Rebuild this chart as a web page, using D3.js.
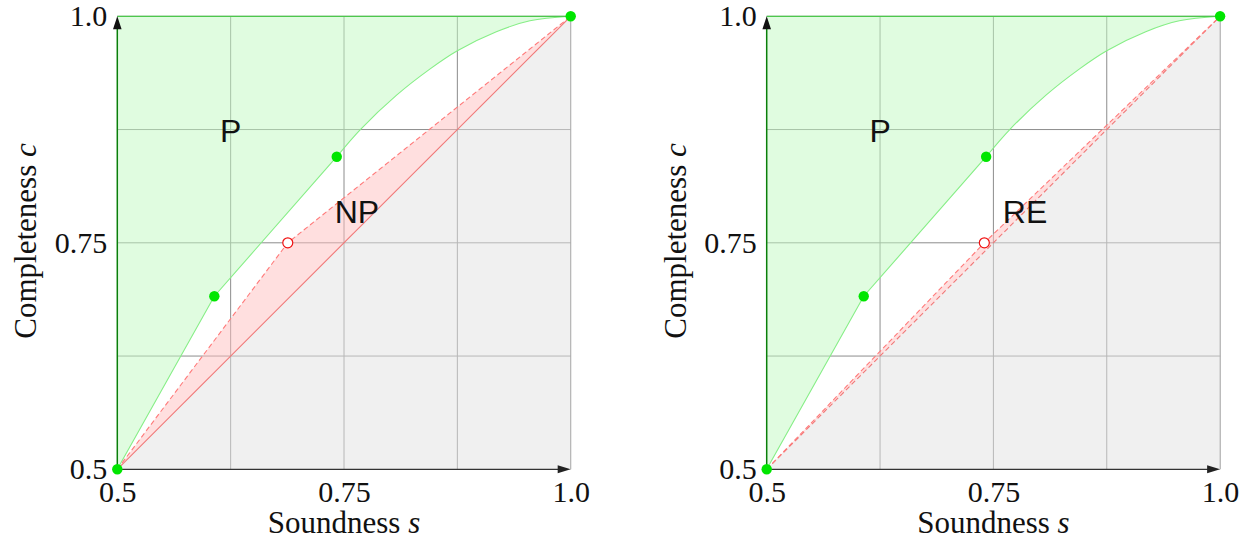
<!DOCTYPE html>
<html>
<head>
<meta charset="utf-8">
<script src="https://cdn.jsdelivr.net/npm/d3@7"></script>
<style>
  html, body { margin: 0; padding: 0; background: #fff; }
  svg { display: block; }
</style>
</head>
<body>
<svg id="chart" width="1251" height="544"></svg>
<script>
// ---- data ----
const axisTicks = [0.5, 0.75, 1.0];
const axisTickLabels = ["0.5", "0.75", "1.0"];
const gridValues = [0.625, 0.75, 0.875, 1.0];

// green boundary: straight segments through the first three points, smooth afterwards
const greenLinearS = [0.5, 0.607, 0.742];
const greenLinearC = [0.5, 0.691, 0.845];
const greenCurveS = [0.742, 0.768, 0.808, 0.845, 0.875, 0.918, 0.955, 1.0];
const greenCurveC = [0.845, 0.875, 0.913, 0.942, 0.962, 0.983, 0.995, 1.0];
const greenDotS = [0.5, 0.607, 0.742, 1.0];
const greenDotC = [0.5, 0.691, 0.845, 1.0];

// red dashed polylines (left: NP, right: RE)
const redLeftS = [0.5, 0.688, 1.0];
const redLeftC = [0.5, 0.75, 1.0];
const redRightS = [0.5, 0.740, 1.0];
const redRightC = [0.5, 0.75, 1.0];

const diagS = [0.5, 1.0];
const diagC = [0.5, 1.0];

const panelLabels = [["P", "NP"], ["P", "RE"]];
const xTitle = "Soundness";
const yTitle = "Completeness";

// ---- drawing ----
const svg = d3.select("#chart");
const W = 453.4, TOP = 16.3, BOTTOM = 469.3;
const panelX0 = [117.3, 766.7];

function zip(a, b) { return a.map((v, i) => [v, b[i]]); }

function drawPanel(pi, redS, redC, diagDashed, labels, labelPos) {
  const X0 = panelX0[pi];
  const x = d3.scaleLinear().domain([0.5, 1]).range([X0, X0 + W]);
  const y = d3.scaleLinear().domain([0.5, 1]).range([BOTTOM, TOP]);
  const g = svg.append("g");

  // grid
  g.append("g").selectAll("line.v").data(gridValues).join("line")
    .attr("x1", d => x(d)).attr("x2", d => x(d))
    .attr("y1", y(0.5)).attr("y2", y(1))
    .attr("stroke", "#8c8c8c").attr("stroke-width", 1);
  g.append("g").selectAll("line.h").data(gridValues).join("line")
    .attr("y1", d => y(d)).attr("y2", d => y(d))
    .attr("x1", x(0.5)).attr("x2", x(1))
    .attr("stroke", "#8c8c8c").attr("stroke-width", 1);

  const lin = d3.line().x(d => x(d[0])).y(d => y(d[1])).curve(d3.curveLinear);
  const smooth = d3.line().x(d => x(d[0])).y(d => y(d[1])).curve(d3.curveCatmullRom.alpha(0.5));
  const greenLinPath = lin(zip(greenLinearS, greenLinearC));
  const greenCurvePath = smooth(zip(greenCurveS, greenCurveC));
  const greenBoundary = greenLinPath + greenCurvePath.replace(/^M/, "L");

  // gray region below diagonal
  const grayPts = [[diagS[0], diagC[0]], [1, 0.5], [diagS[1], diagC[1]]];
  g.append("path").attr("d", lin(grayPts) + "Z")
    .attr("fill", "#e2e2e2").attr("fill-opacity", 0.5);

  // green region above curve
  g.append("path")
    .attr("d", "M" + x(0.5) + "," + y(1) + greenBoundary.replace(/^M/, "L") + "Z")
    .attr("fill", "#c2fac2").attr("fill-opacity", 0.5);

  // pink band between diagonal and red polyline
  const redPts = zip(redS, redC);
  g.append("path").attr("d", lin(redPts) + "Z")
    .attr("fill", "#ffc0c0").attr("fill-opacity", 0.5);

  // green curve
  g.append("path").attr("d", greenBoundary)
    .attr("fill", "none").attr("stroke", "#86ee86").attr("stroke-width", 1.1);
  // green top edge
  g.append("line").attr("x1", x(0.5)).attr("x2", x(1)).attr("y1", y(1)).attr("y2", y(1))
    .attr("stroke", "#4cc84c").attr("stroke-width", 1.3);

  // diagonal
  g.append("path").attr("d", lin(zip(diagS, diagC)))
    .attr("fill", "none").attr("stroke", "#f07878").attr("stroke-width", 1.1)
    .attr("stroke-dasharray", diagDashed ? "5,3" : null);
  // red dashed polyline
  g.append("path").attr("d", lin(redPts))
    .attr("fill", "none").attr("stroke", "#ff7a7a").attr("stroke-width", 1.1)
    .attr("stroke-dasharray", "5,3");

  // x axis line + arrow
  g.append("line").attr("x1", x(0.5)).attr("x2", x(1) - 8).attr("y1", y(0.5)).attr("y2", y(0.5))
    .attr("stroke", "#333").attr("stroke-width", 1.3);
  g.append("path")
    .attr("d", `M${x(1)},${y(0.5)} L${x(1) - 13},${y(0.5) - 4} L${x(1) - 13},${y(0.5) + 4} Z`)
    .attr("fill", "#222");
  // y axis line (green) + arrow
  g.append("line").attr("x1", x(0.5)).attr("x2", x(0.5)).attr("y1", y(0.5)).attr("y2", y(1) + 8)
    .attr("stroke", "#0a7f0a").attr("stroke-width", 1.5);
  g.append("path")
    .attr("d", `M${x(0.5)},${y(1)} L${x(0.5) - 4.3},${y(1) + 13} L${x(0.5) + 4.3},${y(1) + 13} Z`)
    .attr("fill", "#111");

  // tick labels via axes
  const fmt = (d) => axisTickLabels[axisTicks.indexOf(d)];
  const ax = g.append("g").attr("transform", `translate(0,${y(0.5)})`)
    .call(d3.axisBottom(x).tickValues(axisTicks).tickFormat(fmt).tickSize(0).tickPadding(11));
  const ay = g.append("g").attr("transform", `translate(${x(0.5)},0)`)
    .call(d3.axisLeft(y).tickValues(axisTicks).tickFormat(fmt).tickSize(0).tickPadding(10));
  [ax, ay].forEach(a => {
    a.select(".domain").remove();
    a.selectAll("text").attr("font-family", "'Liberation Serif', serif")
      .attr("font-size", 30).attr("fill", "#111");
  });

  // points
  g.append("g").selectAll("circle").data(zip(greenDotS, greenDotC)).join("circle")
    .attr("cx", d => x(d[0])).attr("cy", d => y(d[1])).attr("r", 5.2)
    .attr("fill", "#00e600");
  g.append("circle").attr("cx", x(redS[1])).attr("cy", y(redC[1])).attr("r", 5)
    .attr("fill", "#fff").attr("stroke", "#f01010").attr("stroke-width", 1.2);

  // region labels
  labels.forEach((t, i) => {
    g.append("text").attr("x", x(labelPos[i][0])).attr("y", y(labelPos[i][1]))
      .attr("text-anchor", "middle")
      .attr("font-family", "'Liberation Sans', Arial, sans-serif").attr("font-size", 32)
      .attr("fill", "#111").text(t);
  });

  // axis titles
  const xt = g.append("text").attr("x", x(0.75)).attr("y", 533)
    .attr("text-anchor", "middle")
    .attr("font-family", "'Liberation Serif', serif").attr("font-size", 31).attr("fill", "#111");
  xt.append("tspan").text(xTitle + " ");
  xt.append("tspan").attr("font-style", "italic").text("s");

  const yt = g.append("text")
    .attr("transform", `translate(${X0 - 81},${241}) rotate(-90)`)
    .attr("text-anchor", "middle")
    .attr("font-family", "'Liberation Serif', serif").attr("font-size", 31).attr("fill", "#111");
  yt.append("tspan").text(yTitle + " ");
  yt.append("tspan").attr("font-style", "italic").text("c");
}

// label anchor positions in data units (baseline-centre)
drawPanel(0, redLeftS, redLeftC, false, panelLabels[0], [[0.625, 0.8616], [0.7643, 0.7722]]);
drawPanel(1, redRightS, redRightC, true, panelLabels[1], [[0.625, 0.8616], [0.7849, 0.7722]]);
</script>
</body>
</html>
